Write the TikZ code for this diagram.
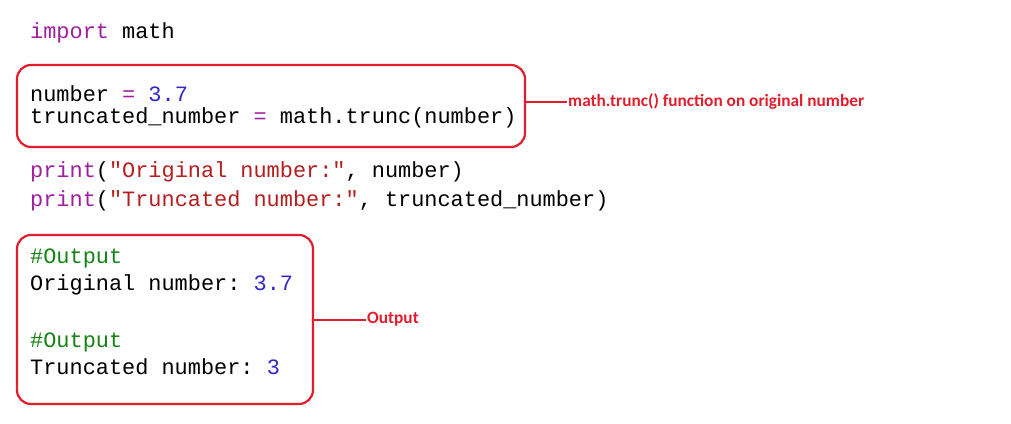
\documentclass[tikz,border=0pt]{standalone}
\usepackage{fontspec}
\setmonofont{Liberation Mono}
\setsansfont{Carlito}
\definecolor{kw}{RGB}{160,30,160}
\definecolor{num}{RGB}{50,40,200}
\definecolor{str}{RGB}{180,30,30}
\definecolor{cmt}{RGB}{20,130,20}
\definecolor{bx}{RGB}{225,30,45}
\begin{document}
\begin{tikzpicture}[x=1pt,y=-1pt,
  code/.style={anchor=base west,inner sep=0pt,font=\ttfamily\fontsize{21.9}{24}\selectfont},
  box/.style={draw=bx,line width=2.2pt,rounded corners=14pt},
  lab/.style={anchor=west,inner sep=1pt,text=bx,font=\sffamily\bfseries\fontsize{17.3}{19}\selectfont},
  conn/.style={draw=bx,line width=2pt}]
\useasboundingbox (0,0) rectangle (1011,423);
\node[code] at (30,38) {\textcolor{kw}{import} math};
\node[code] at (30,101) {number \textcolor{kw}{=} \textcolor{num}{3.7}};
\node[code] at (30,123) {truncated\_number \textcolor{kw}{=} math.trunc(number)};
\node[code] at (30,177) {\textcolor{kw}{print}(\textcolor{str}{"Original number:"}, number)};
\node[code] at (30,206) {\textcolor{kw}{print}(\textcolor{str}{"Truncated number:"}, truncated\_number)};
\node[code] at (30,263) {\textcolor{cmt}{\#Output}};
\node[code] at (30,290) {Original number: \textcolor{num}{3.7}};
\node[code] at (30,347) {\textcolor{cmt}{\#Output}};
\node[code] at (30,374) {Truncated number: \textcolor{num}{3}};
\draw[box] (17,65) rectangle (525,147);
\draw[box] (17,235) rectangle (313,404);
\coordinate (b1) at (525,102);
\coordinate (b2) at (313,320);
\node[lab] (l1) at (567,102) {math.trunc() function on original number};
\node[lab] (l2) at (366,319) {Output};
\draw[conn] (b1) -- (b1 -| l1.west);
\draw[conn] (b2) -- (b2 -| l2.west);
\end{tikzpicture}
\end{document}
